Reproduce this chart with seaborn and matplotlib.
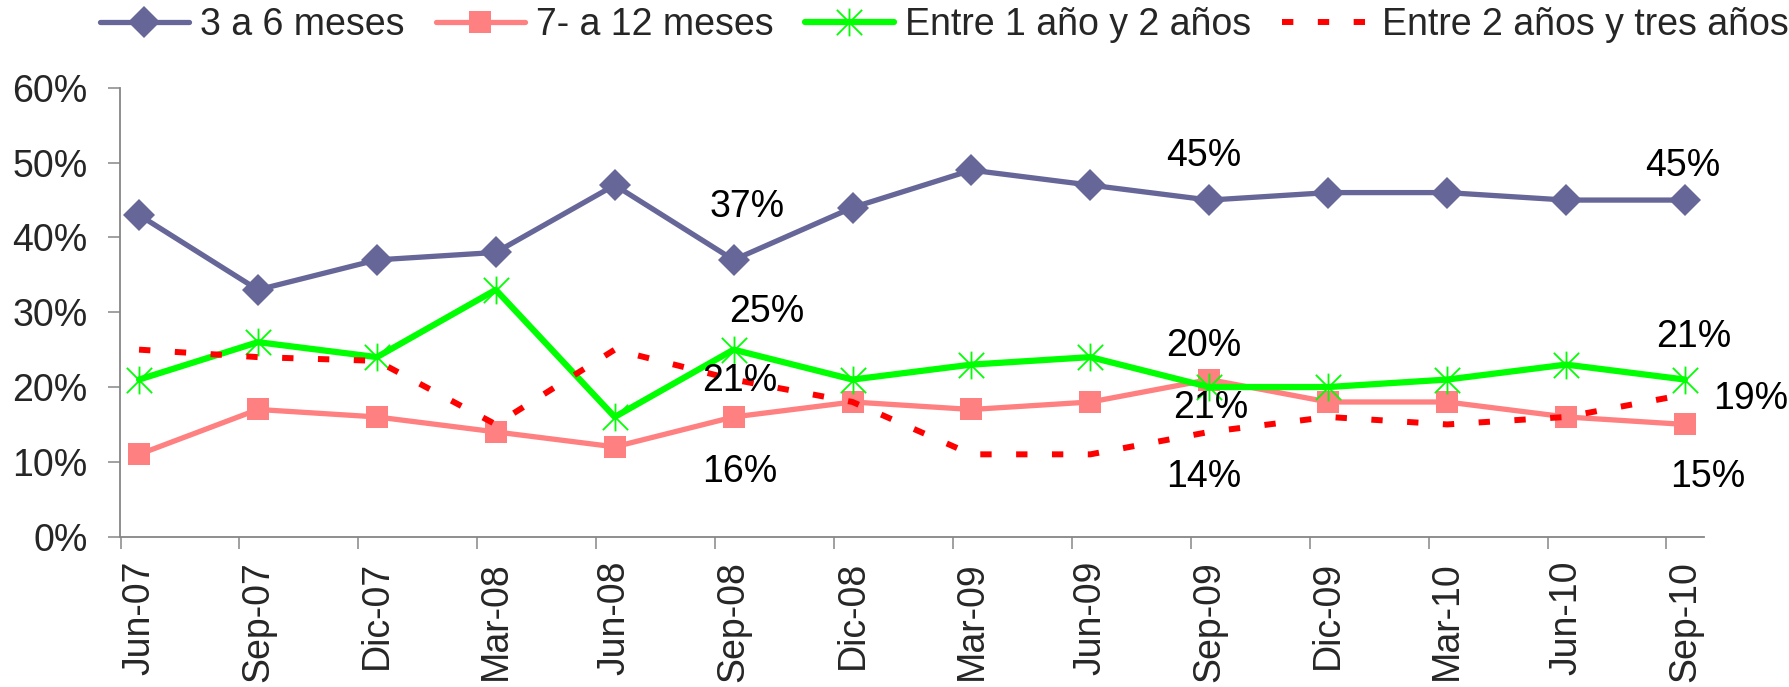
import numpy as np
import pandas as pd
import matplotlib
matplotlib.use("Agg")
import matplotlib.pyplot as plt
from matplotlib.path import Path
from matplotlib.ticker import FuncFormatter, FixedLocator
import seaborn as sns

# ---------------- data ----------------
fechas = ["Jun-07", "Sep-07", "Dic-07", "Mar-08", "Jun-08", "Sep-08", "Dic-08",
          "Mar-09", "Jun-09", "Sep-09", "Dic-09", "Mar-10", "Jun-10", "Sep-10"]
tres_a_seis = [43, 33, 37, 38, 47, 37, 44, 49, 47, 45, 46, 46, 45, 45]
siete_a_doce = [11, 17, 16, 14, 12, 16, 18, 17, 18, 21, 18, 18, 16, 15]
uno_a_dos = [21, 26, 24, 33, 16, 25, 21, 23, 24, 20, 20, 21, 23, 21]
dos_a_tres = [25, 24, 23.5, 15, 25, 21, 18, 11, 11, 14, 16, 15, 16, 19]
nombres = ["3 a 6 meses", "7- a 12 meses", "Entre 1 año y 2 años",
           "Entre 2 años y tres años"]
y_ticks = [0, 10, 20, 30, 40, 50, 60]
# data labels: (series index, date index)
etiquetas = [(0, 5), (2, 5), (3, 5), (1, 5),
             (0, 9), (2, 9), (1, 9), (3, 9),
             (0, 13), (2, 13), (3, 13), (1, 13)]

# ---------------- style ----------------
sns.set_style("white")
plt.rcParams["font.family"] = ["Liberation Sans", "DejaVu Sans"]
FS = 27

series = [tres_a_seis, siete_a_doce, uno_a_dos, dos_a_tres]
colores = ["#666699", "#FF8080", "#00FF00", "#FF0000"]
anchos = [3.8, 3.8, 4.5, 4.3]

star = Path([(-1, -1), (1, 1), (-1, 1), (1, -1), (0, -1.1), (0, 1.1)],
            [Path.MOVETO, Path.LINETO] * 3)
marcadores = [dict(marker="D", markersize=16, markeredgewidth=0),
              dict(marker="s", markersize=16, markeredgewidth=0),
              dict(marker=star, markersize=20, markeredgewidth=1.3,
                   markerfacecolor="none"),
              dict(marker=None)]

fig = plt.figure(figsize=(17.9, 6.87), dpi=100)
W, H = 1790, 687
x_left, x_right, y_top, y_bot = 120.5, 1704, 87.9, 536.6
ax = fig.add_axes([x_left / W, 1 - y_bot / H, (x_right - x_left) / W,
                   (y_bot - y_top) / H])

pos = np.arange(len(fechas))
for i, (vals, nom) in enumerate(zip(series, nombres)):
    df = pd.DataFrame({"x": pos, "y": vals})
    kw = dict(marcadores[i])
    kw.setdefault("markeredgecolor", colores[i])
    sns.lineplot(data=df, x="x", y="y", ax=ax, color=colores[i],
                 linewidth=anchos[i], label=nom, errorbar=None, sort=False,
                 zorder=3 + i, **kw)
    ln = ax.lines[-1]
    if i == 3:
        ln.set_dashes((1.9, 4.1))
        ln.set_dash_capstyle("butt")

# data labels
offsets = {(0, 5): (13, 53), (2, 5): (33, 38), (3, 5): (6, -1), (1, 5): (6, -55),
           (0, 9): (-6, 44), (2, 9): (-6, 41), (1, 9): (1, -28), (3, 9): (-6, -45),
           (0, 13): (-2, 34), (2, 13): (9, 43), (3, 13): (66, -4), (1, 13): (23, -53)}
for (s, d) in etiquetas:
    v = series[s][d]
    ax.annotate(f"{v:.0f}%", xy=(pos[d], v), xytext=offsets[(s, d)],
                textcoords="offset pixels", ha="center", va="center",
                fontsize=FS, color="black", zorder=10)

# axes
off = 0.156
ax.set_xlim(-off, len(fechas) - 1 + 0.16)
ax.set_ylim(0, 60)
ax.xaxis.set_major_locator(FixedLocator(pos))
ax.xaxis.set_minor_locator(FixedLocator(pos - off))
ax.set_xticklabels(fechas, rotation=90, fontsize=FS)
for lab in ax.get_xticklabels():
    lab.set_va("top")
ax.set_yticks(y_ticks)
ax.yaxis.set_major_formatter(FuncFormatter(lambda v, p: f"{v:.0f}%"))
ax.tick_params(axis="y", labelsize=FS, length=8.6, width=1.1, color="#868686",
               pad=15, direction="out", left=True)
ax.tick_params(axis="x", which="major", length=0, pad=17.5, bottom=True)
ax.tick_params(axis="x", which="minor", length=8.6, width=1.1, color="#868686",
               direction="out", bottom=True)
ax.set_xlabel("")
ax.set_ylabel("")
for sp in ["top", "right"]:
    ax.spines[sp].set_visible(False)
for sp in ["left", "bottom"]:
    ax.spines[sp].set_color("#868686")
    ax.spines[sp].set_linewidth(1.3)
ax.grid(False)

handles, labels = ax.get_legend_handles_labels()
ax.get_legend().remove()
fig.legend(handles, labels, loc="center left", ncol=4, frameon=False,
           bbox_to_anchor=(100 / W, 1 - 25 / H), fontsize=FS,
           handlelength=2.37, handletextpad=0.3, columnspacing=0.83,
           borderpad=0, borderaxespad=0)

fig.savefig("out.png", dpi=100)
